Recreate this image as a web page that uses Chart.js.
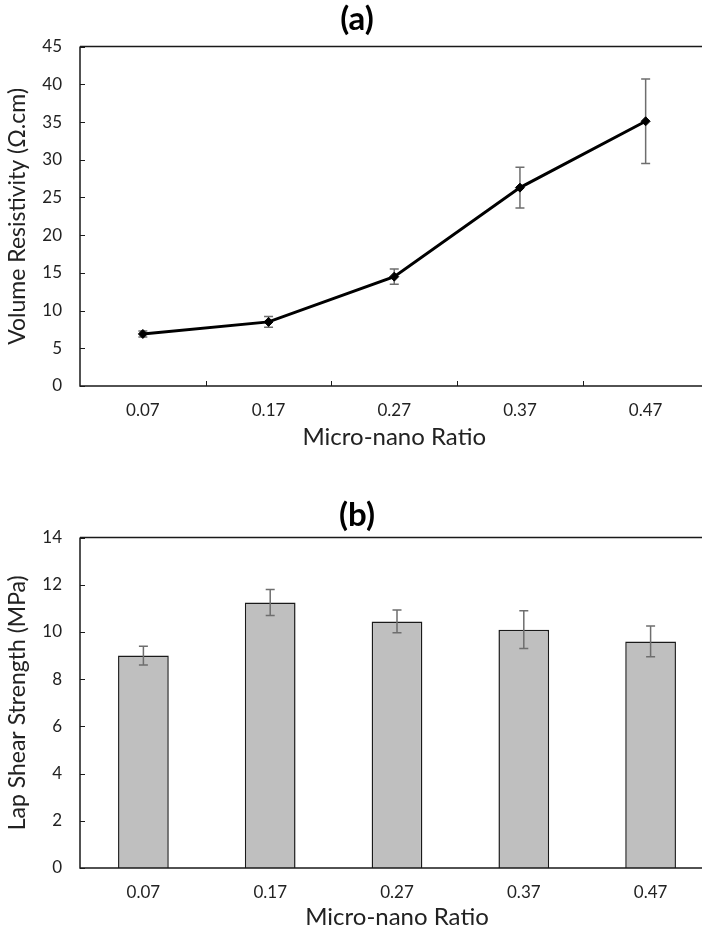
<!DOCTYPE html>
<html>
<head>
<meta charset="utf-8">
<script src="https://cdn.jsdelivr.net/npm/chart.js@4.4.0/dist/chart.umd.min.js"></script>
<style>
  html, body { margin: 0; padding: 0; background: #fff; overflow: hidden; }
  #wrap { position: relative; width: 702px; height: 935px; overflow: hidden; }
  #chartA { position: absolute; left: 0; top: 0; }
  #chartB { position: absolute; left: 0; top: 465px; }
</style>
</head>
<body>
<div id="wrap">
  <canvas id="chartA" width="714" height="465"></canvas>
  <canvas id="chartB" width="714" height="470"></canvas>
</div>
<script>
// data
var ratios = ["0.07", "0.17", "0.27", "0.37", "0.47"];
var resistivity = [6.9, 8.5, 14.5, 26.3, 35.1];
var resistivityErr = [0.4, 0.7, 1.0, 2.7, 5.6];
var shearStrength = [9.0, 11.25, 10.45, 10.1, 9.6];
var shearErr = [0.4, 0.55, 0.48, 0.8, 0.65];

var fontFamily = "Lato, 'Open Sans', sans-serif";

// axes with tick marks pointing into the plot, plus a top border line
var framePlugin = {
	id: 'frame',
	afterDraw: function(chart, args, opts) {
		var ctx = chart.ctx;
		var a = chart.chartArea;
		var y = chart.scales.y;
		var x = chart.scales.x;
		ctx.save();
		ctx.strokeStyle = "#1a1a1a";
		ctx.lineWidth = 1.5;
		ctx.beginPath();
		ctx.moveTo(a.left, a.top);
		ctx.lineTo(a.right, a.top);
		ctx.moveTo(a.left, a.top);
		ctx.lineTo(a.left, a.bottom);
		ctx.lineTo(a.right, a.bottom);
		ctx.stroke();
		ctx.lineWidth = 1;
		ctx.beginPath();
		y.ticks.forEach(function(t) {
			var py = Math.round(y.getPixelForValue(t.value)) + 0.5;
			ctx.moveTo(a.left, py);
			ctx.lineTo(a.left + 5, py);
		});
		if (opts.xTicks) {
			for (var i = 1; i < ratios.length; i++) {
				var px = Math.round((x.getPixelForValue(i - 1) + x.getPixelForValue(i)) / 2) + 0.5;
				ctx.moveTo(px, a.bottom);
				ctx.lineTo(px, a.bottom - 5);
			}
		}
		ctx.stroke();
		ctx.restore();
	}
};

function drawErrors(chart, errs) {
	var ctx = chart.ctx;
	var meta = chart.getDatasetMeta(0);
	var y = chart.scales.y;
	var vals = chart.data.datasets[0].data;
	ctx.save();
	ctx.strokeStyle = "#6e6e6e";
	ctx.lineWidth = 1.5;
	ctx.beginPath();
	for (var i = 0; i < vals.length; i++) {
		var px = meta.data[i].x;
		var top = y.getPixelForValue(vals[i] + errs[i]);
		var bot = y.getPixelForValue(vals[i] - errs[i]);
		ctx.moveTo(px, top);
		ctx.lineTo(px, bot);
		ctx.moveTo(px - 4.5, top);
		ctx.lineTo(px + 4.5, top);
		ctx.moveTo(px - 4.5, bot);
		ctx.lineTo(px + 4.5, bot);
	}
	ctx.stroke();
	ctx.restore();
}

var errorPlugin = {
	id: 'errorBars',
	beforeDatasetsDraw: function(chart, args, opts) {
		if (opts.under) drawErrors(chart, opts.errs);
	},
	afterDatasetsDraw: function(chart, args, opts) {
		if (!opts.under) drawErrors(chart, opts.errs);
	}
};

function baseOptions(title, yTitle, yMax, yStep, xHeight, titlePad, xTitlePad) {
	return {
		responsive: false,
		animation: false,
		layout: { padding: 0 },
		plugins: {
			legend: { display: false },
			tooltip: { enabled: false },
			title: {
				display: true,
				text: title,
				color: "#000",
				font: { family: fontFamily, size: 33, weight: "bold" },
				padding: titlePad
			}
		},
		scales: {
			x: {
				offset: true,
				grid: { display: false, drawTicks: false },
				border: { display: false },
				ticks: { color: "#222", padding: 14, font: { family: fontFamily, size: 17 } },
				title: {
					display: true,
					text: "Micro-nano Ratio",
					color: "#222",
					font: { family: fontFamily, size: 24 },
					padding: { top: 0, bottom: xTitlePad }
				},
				afterFit: function(scale) { scale.height = xHeight; }
			},
			y: {
				min: 0,
				max: yMax,
				grid: { display: false, drawTicks: false },
				border: { display: false },
				ticks: { stepSize: yStep, color: "#222", padding: 18, font: { family: fontFamily, size: 17 } },
				title: {
					display: true,
					text: yTitle,
					color: "#222",
					font: { family: fontFamily, size: 23 },
					padding: { top: 4, bottom: 0 }
				},
				afterFit: function(scale) { scale.width = 80; }
			}
		}
	};
}

var optsA = baseOptions("(a)", "Volume Resistivity (Ω.cm)", 45, 5, 79, { top: 0, bottom: 7 }, 13);
optsA.plugins.frame = { xTicks: true };
optsA.plugins.errorBars = { errs: resistivityErr, under: true };

var ctxA = document.getElementById("chartA");
var chartA = new Chart(ctxA, {
	type: 'line',
	data: {
		labels: ratios,
		datasets: [
			{
				label: "Volume Resistivity",
				data: resistivity,
				borderColor: "#000",
				backgroundColor: "#000",
				borderWidth: 3,
				tension: 0,
				fill: false,
				pointStyle: 'rectRot',
				pointRadius: 4.5,
				pointBackgroundColor: "#000",
				pointBorderColor: "#000",
				pointBorderWidth: 1
			}
		]
	},
	options: optsA,
	plugins: [framePlugin, errorPlugin]
});

var optsB = baseOptions("(b)", "Lap Shear Strength (MPa)", 14, 2, 67, { top: 31, bottom: 2 }, 3);
optsB.plugins.frame = { xTicks: false };
optsB.plugins.errorBars = { errs: shearErr, under: false };

var ctxB = document.getElementById("chartB");
var chartB = new Chart(ctxB, {
	type: 'bar',
	data: {
		labels: ratios,
		datasets: [
			{
				label: "Lap Shear Strength",
				data: shearStrength,
				backgroundColor: "#bfbfbf",
				borderColor: "#1a1a1a",
				borderWidth: 1.5,
				barPercentage: 0.4,
				categoryPercentage: 1.0
			}
		]
	},
	options: optsB,
	plugins: [framePlugin, errorPlugin]
});
</script>
</body>
</html>
